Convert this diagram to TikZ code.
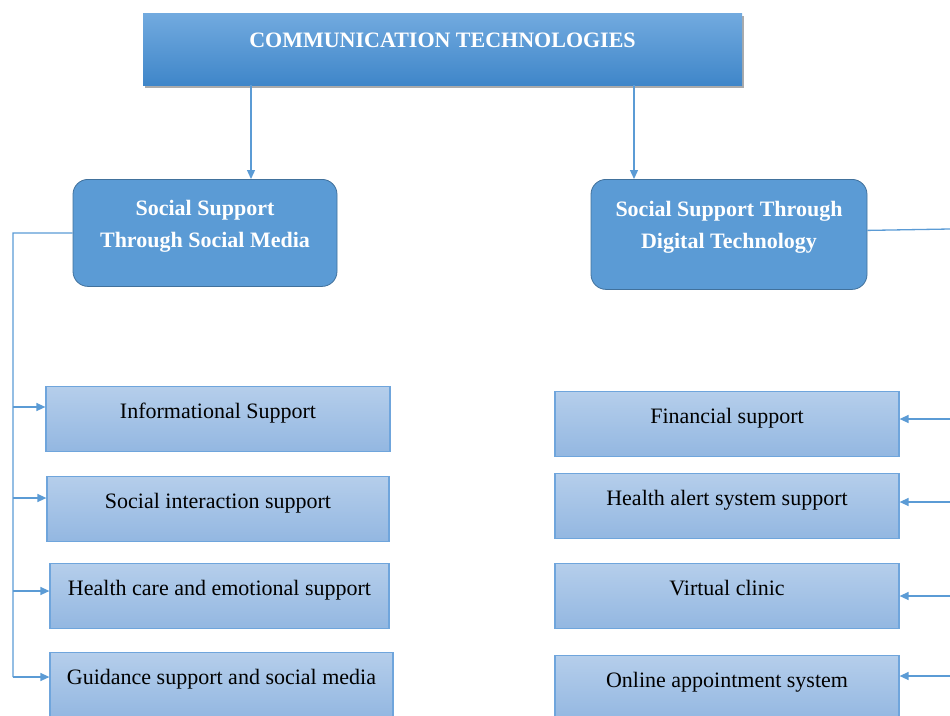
\documentclass[tikz,border=0pt]{standalone}
\usepackage{fontspec}
\setmainfont{Liberation Serif}
\usetikzlibrary{arrows.meta,shadows}
\definecolor{linec}{HTML}{5B9BD5}
\definecolor{midfill}{HTML}{5B9BD5}
\definecolor{midedge}{HTML}{41719C}
\definecolor{toptop}{HTML}{72AADF}
\definecolor{topbot}{HTML}{3F86C9}
\definecolor{boxtop}{HTML}{B5CEEB}
\definecolor{boxbot}{HTML}{93B7E1}
\definecolor{boxedge}{HTML}{6FA5DC}
\tikzset{
  topbox/.style={anchor=north, rectangle, top color=toptop, bottom color=topbot,
    draw=none, minimum width=599pt, inner xsep=0pt, inner ysep=0pt,
    text height=34.4pt, text depth=37.6pt, text=white,
    font=\fontsize{22}{32}\selectfont\bfseries,
    drop shadow={shadow xshift=1.5pt, shadow yshift=-3pt, fill=black!60, opacity=0.55}},
  midbox/.style={anchor=north, rectangle, rounded corners=15pt, fill=midfill,
    draw=midedge, line width=0.8pt, inner xsep=0pt, inner ysep=0pt, text=white,
    font=\fontsize{22}{32}\selectfont\bfseries},
  subbox/.style={anchor=north, rectangle, top color=boxtop, bottom color=boxbot,
    draw=boxedge, line width=1.2pt, inner xsep=0pt, inner ysep=0pt,
    text height=32pt, text depth=33pt, text=black,
    font=\fontsize{22}{32}\selectfont},
  conn/.style={draw=linec, line width=1.3pt},
  arr/.style={conn, -{Triangle[length=9pt,width=8pt]}}
}
\begin{document}
\begin{tikzpicture}[x=1pt,y=-1pt]
\useasboundingbox (0,0) rectangle (950,715);
% top
\node[topbox] (top) at (442.5,13) {COMMUNICATION TECHNOLOGIES};
% mid
\node[midbox, minimum width=264pt, text height=36.5pt, text depth=70.5pt] (lm) at (205,179)
  {\begin{tabular}[t]{@{}c@{}}Social Support\\Through Social Media\end{tabular}};
\node[midbox, minimum width=276pt, text height=37.5pt, text depth=72.5pt] (rm) at (729,179)
  {\begin{tabular}[t]{@{}c@{}}Social Support Through\\Digital Technology\end{tabular}};
% left boxes
\node[subbox, minimum width=344pt] (l1) at (218,386) {Informational Support};
\node[subbox, minimum width=342pt] (l2) at (218,476) {Social interaction support};
\node[subbox, minimum width=339pt] (l3) at (219.5,563) {Health care and emotional support};
\node[subbox, minimum width=343pt] (l4) at (221.5,652) {Guidance support and social media};
% right boxes
\node[subbox, minimum width=344pt] (r1) at (727,391) {Financial support};
\node[subbox, minimum width=344pt] (r2) at (727,473) {Health alert system support};
\node[subbox, minimum width=344pt] (r3) at (727,563) {Virtual clinic};
\node[subbox, minimum width=344pt] (r4) at (727,655) {Online appointment system};
% coordinates
\coordinate (a1) at (251,0);
\coordinate (a2) at (634,0);
\coordinate (lt) at (13,233);
\coordinate (lb) at (13,677);
\coordinate (rt) at (950,229);
\coordinate (y1) at (0,407);
\coordinate (y2) at (0,498);
\coordinate (y3) at (0,591);
\coordinate (y4) at (0,677);
\coordinate (z1) at (950,419);
\coordinate (z2) at (950,502);
\coordinate (z3) at (950,596);
\coordinate (z4) at (950,676);
% top arrows
\draw[arr] (top.south -| a1) -- (lm.north -| a1);
\draw[arr] (top.south -| a2) -- (rm.north -| a2);
% left tree
\draw[conn] (lm.west) -- (lt) -- (lb);
\draw[arr] (lt |- y1) -- (l1.west |- y1);
\draw[arr] (lt |- y2) -- (l2.west |- y2);
\draw[arr] (lt |- y3) -- (l3.west |- y3);
\draw[arr] (lt |- y4) -- (l4.west |- y4);
% right tree
\draw[conn] ([yshift=4pt]rm.east) -- (rt);
\draw[arr] (z1) -- (r1.east |- z1);
\draw[arr] (z2) -- (r2.east |- z2);
\draw[arr] (z3) -- (r3.east |- z3);
\draw[arr] (z4) -- (r4.east |- z4);
\end{tikzpicture}
\end{document}
